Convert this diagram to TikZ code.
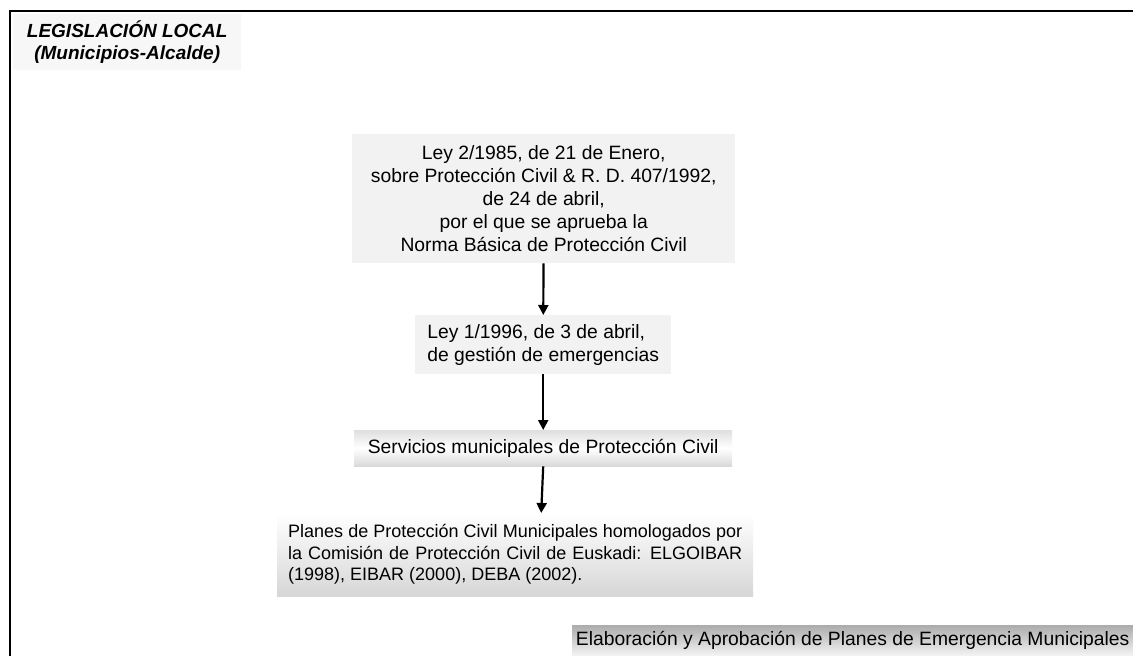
\documentclass[tikz,border=0pt]{standalone}
\usepackage{fontspec}
\setmainfont{Liberation Sans}
\usetikzlibrary{arrows.meta}
\definecolor{fondo}{HTML}{F2F2F2}
\tikzset{
  caja/.style={fill=fondo, inner sep=0pt, anchor=north west, font=\fontsize{19.3}{23}\selectfont},
  flecha/.style={-{Triangle[length=10pt,width=10pt]}, line width=2.2pt},
}
\begin{document}
\begin{tikzpicture}[x=1pt,y=-1pt]
\useasboundingbox (0,0) rectangle (1133,656);
%marco
\draw[line width=2.4pt] (1133,11) -- (10,11) -- (10,656);
%titulo
\node[caja, fill=gray!6, minimum width=228pt, minimum height=56pt, align=center,
  font=\fontsize{19}{22}\selectfont\bfseries\itshape] (titulo) at (13,14)
  {LEGISLACIÓN LOCAL\\(Municipios-Alcalde)};
%leyes
\node[caja, minimum width=383pt, minimum height=129pt, align=center] (ley85) at (352,134)
  {Ley 2/1985, de 21 de Enero,\\sobre Protección Civil \& R. D. 407/1992,\\de 24 de abril,\\por el que se aprueba la\\Norma Básica de Protección Civil};
\node[caja, minimum width=256pt, minimum height=59pt, align=left] (ley96) at (415,315)
  {Ley 1/1996, de 3 de abril,\\de gestión de emergencias};
%servicios y planes
\node[caja, minimum width=378pt, minimum height=36pt, top color=gray!25, bottom color=gray!30,
  middle color=white] (servicios) at (354,430)
  {Servicios municipales de Protección Civil};
\node[caja, minimum width=476pt, minimum height=83pt, text width=454pt, align=justify,
  top color=white, bottom color=gray!32, font=\fontsize{18}{21.5}\selectfont] (planes) at (277,513)
  {Planes de Protección Civil Municipales homologados por\linebreak la Comisión de Protección Civil de Euskadi: ELGOIBAR\linebreak (1998), EIBAR (2000), DEBA (2002).};
\node[caja, minimum width=561pt, minimum height=31pt, top color=gray!65, bottom color=gray!8]
  (elaboracion) at (572,625)
  {Elaboración y Aprobación de Planes de Emergencia Municipales};
%flechas
\draw[flecha] (ley85) -- (ley96);
\draw[flecha] (ley96) -- (servicios);
\draw[flecha] (servicios.south) -- ([xshift=26pt]planes.north);
\end{tikzpicture}
\end{document}
